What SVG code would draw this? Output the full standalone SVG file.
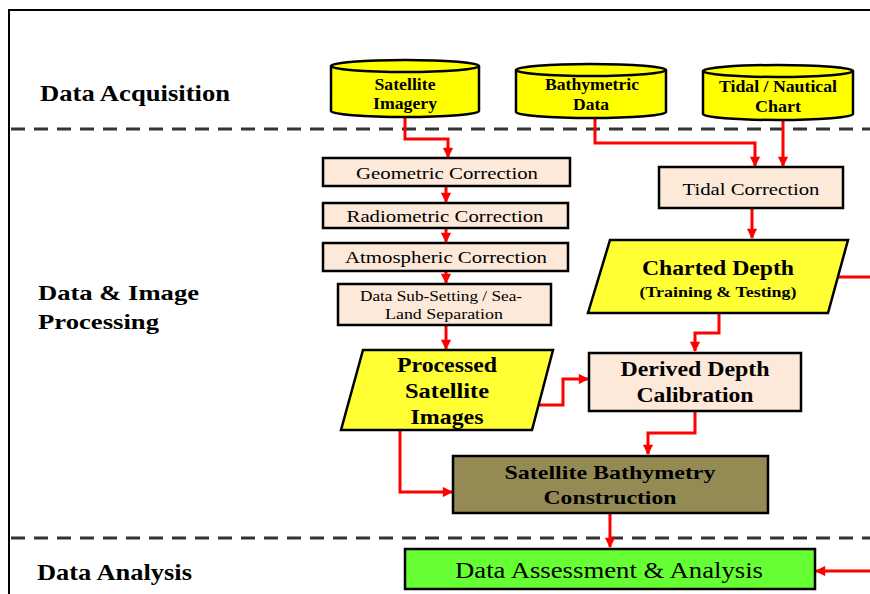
<svg xmlns="http://www.w3.org/2000/svg" width="870" height="594" viewBox="0 0 870 594">
<defs>
<marker id="ah" viewBox="0 0 10 10" refX="9" refY="5" markerWidth="3.8" markerHeight="3.4" orient="auto" markerUnits="strokeWidth">
<path d="M0,0 L10,5 L0,10 Z" fill="#ff0000"/>
</marker>
<style>
text{font-family:'Liberation Serif','Times New Roman',Times,serif;fill:#000}
.lbl,.b{font-weight:bold}
.cyl{fill:#ffff00;stroke:#000;stroke-width:2.5}
.box{fill:#fde9d9;stroke:#000;stroke-width:2.5}
.para{fill:#ffff33;stroke:#000;stroke-width:2.5}
.dash{stroke:#333;stroke-width:3;stroke-dasharray:14 9;fill:none}
.con{fill:none;stroke:#ff0000;stroke-width:3}
.arr{marker-end:url(#ah)}
</style>
</defs>
<rect width="870" height="594" fill="#fff"/>
<path d="M870,10 L9,10 L9,594" fill="none" stroke="#000" stroke-width="2"/>
<line class="dash" x1="11" y1="129" x2="870" y2="129"/>
<line class="dash" x1="11" y1="538" x2="870" y2="538"/>

<g id="sections">
<text class="lbl" x="40" y="101" font-size="24" textLength="190" lengthAdjust="spacingAndGlyphs">Data Acquisition</text>
<text class="lbl" x="38" y="300" font-size="22" textLength="161" lengthAdjust="spacingAndGlyphs">Data &amp; Image</text>
<text class="lbl" x="38" y="329" font-size="22" textLength="121" lengthAdjust="spacingAndGlyphs">Processing</text>
<text class="lbl" x="37" y="580" font-size="23" textLength="155" lengthAdjust="spacingAndGlyphs">Data Analysis</text>
</g>

<g id="connectors">
<path class="con arr" d="M405,117 L405,139 L448,139 L448,157"/>
<path class="con arr" d="M595,118 L595,143 L755,143 L755,166"/>
<path class="con arr" d="M783,120 L783,166"/>
<path class="con arr" d="M446,186 L446,202"/>
<path class="con arr" d="M446,228 L446,242"/>
<path class="con arr" d="M446,271 L446,283"/>
<path class="con arr" d="M446,325 L446,349"/>
<path class="con arr" d="M752,208 L752,238"/>
<path class="con" d="M836,277 L870,277"/>
<path class="con arr" d="M719,314 L719,333 L695,333 L695,351"/>
<path class="con arr" d="M537,405 L563,405 L563,379 L588,379"/>
<path class="con arr" d="M695,411 L695,433 L648,433 L648,454"/>
<path class="con arr" d="M400,430 L400,492 L452,492"/>
<path class="con arr" d="M610,513 L610,547"/>
<path class="con arr" d="M870,571 L816,571"/>
</g>

<g id="satellite-imagery">
<path class="cyl" d="M331,66 L331,111 A74,6 0 0 0 479,111 L479,66"/>
<ellipse class="cyl" cx="405" cy="66" rx="74" ry="6"/>
<text class="b" x="405" y="90" font-size="16" text-anchor="middle" textLength="61" lengthAdjust="spacingAndGlyphs">Satellite</text>
<text class="b" x="405" y="109" font-size="16" text-anchor="middle" textLength="64" lengthAdjust="spacingAndGlyphs">Imagery</text>
</g>
<g id="bathymetric-data">
<path class="cyl" d="M516,70 L516,112 A75,6 0 0 0 666,112 L666,70"/>
<ellipse class="cyl" cx="591" cy="70" rx="75" ry="6"/>
<text class="b" x="592" y="90" font-size="16" text-anchor="middle" textLength="94" lengthAdjust="spacingAndGlyphs">Bathymetric</text>
<text class="b" x="591" y="110" font-size="16" text-anchor="middle" textLength="36" lengthAdjust="spacingAndGlyphs">Data</text>
</g>
<g id="tidal-chart">
<path class="cyl" d="M703,71 L703,114 A75,6 0 0 0 853,114 L853,71"/>
<ellipse class="cyl" cx="778" cy="71" rx="75" ry="6"/>
<text class="b" x="778" y="92" font-size="16" text-anchor="middle" textLength="118" lengthAdjust="spacingAndGlyphs">Tidal / Nautical</text>
<text class="b" x="778" y="112" font-size="16" text-anchor="middle" textLength="46" lengthAdjust="spacingAndGlyphs">Chart</text>
</g>

<g id="geometric">
<rect class="box" x="323" y="158" width="247" height="28"/>
<text x="447" y="179" font-size="17" text-anchor="middle" textLength="182" lengthAdjust="spacingAndGlyphs">Geometric Correction</text>
</g>
<g id="radiometric">
<rect class="box" x="323" y="203" width="245" height="25"/>
<text x="445" y="222" font-size="17" text-anchor="middle" textLength="197" lengthAdjust="spacingAndGlyphs">Radiometric Correction</text>
</g>
<g id="atmospheric">
<rect class="box" x="323" y="243" width="245" height="28"/>
<text x="446" y="263" font-size="17" text-anchor="middle" textLength="202" lengthAdjust="spacingAndGlyphs">Atmospheric Correction</text>
</g>
<g id="subsetting">
<rect class="box" x="338" y="284" width="213" height="41"/>
<text x="441" y="301" font-size="14" text-anchor="middle" textLength="162" lengthAdjust="spacingAndGlyphs">Data Sub-Setting / Sea-</text>
<text x="444" y="319" font-size="14" text-anchor="middle" textLength="118" lengthAdjust="spacingAndGlyphs">Land Separation</text>
</g>
<g id="tidal-correction">
<rect class="box" x="659" y="167" width="184" height="41"/>
<text x="751" y="195" font-size="17" text-anchor="middle" textLength="137" lengthAdjust="spacingAndGlyphs">Tidal Correction</text>
</g>
<g id="charted-depth">
<polygon class="para" points="610,240 848,240 828,313 588,313"/>
<text class="b" x="718" y="275" font-size="20" text-anchor="middle" textLength="152" lengthAdjust="spacingAndGlyphs">Charted Depth</text>
<text class="b" x="718" y="297" font-size="14" text-anchor="middle" textLength="157" lengthAdjust="spacingAndGlyphs">(Training &amp; Testing)</text>
</g>
<g id="processed-images">
<polygon class="para" points="363,350 553,350 532,430 341,430"/>
<text class="b" x="447" y="372" font-size="21" text-anchor="middle" textLength="100" lengthAdjust="spacingAndGlyphs">Processed</text>
<text class="b" x="447" y="398" font-size="21" text-anchor="middle" textLength="84" lengthAdjust="spacingAndGlyphs">Satellite</text>
<text class="b" x="447" y="424" font-size="21" text-anchor="middle" textLength="73" lengthAdjust="spacingAndGlyphs">Images</text>
</g>
<g id="derived-depth">
<rect class="box" x="589" y="353" width="212" height="58"/>
<text class="b" x="695" y="376" font-size="20" text-anchor="middle" textLength="149" lengthAdjust="spacingAndGlyphs">Derived Depth</text>
<text class="b" x="695" y="402" font-size="20" text-anchor="middle" textLength="117" lengthAdjust="spacingAndGlyphs">Calibration</text>
</g>
<g id="sdb-construction">
<rect x="453" y="456" width="315" height="57" fill="#948a54" stroke="#000" stroke-width="2.5"/>
<text class="b" x="610" y="479" font-size="19" text-anchor="middle" textLength="211" lengthAdjust="spacingAndGlyphs">Satellite Bathymetry</text>
<text class="b" x="610" y="504" font-size="19" text-anchor="middle" textLength="133" lengthAdjust="spacingAndGlyphs">Construction</text>
</g>
<g id="assessment">
<rect x="405" y="549" width="410" height="40" fill="#66ff33" stroke="#000" stroke-width="2.5"/>
<text x="609" y="578" font-size="24" text-anchor="middle" textLength="308" lengthAdjust="spacingAndGlyphs">Data Assessment &amp; Analysis</text>
</g>
</svg>
